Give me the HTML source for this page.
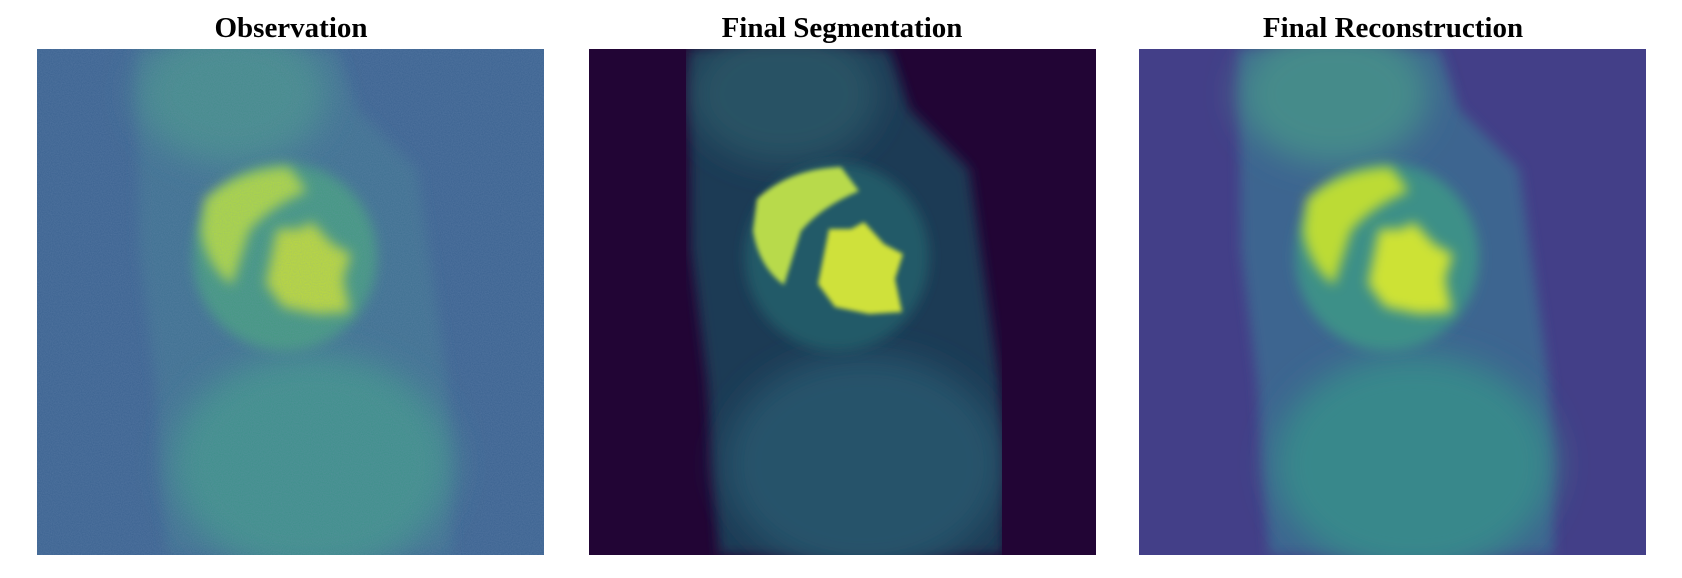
<!DOCTYPE html>
<html><head><meta charset="utf-8"><style>
body{margin:0;background:#fff;width:1682px;height:578px;overflow:hidden}
svg{display:block}
.t{font-family:"Liberation Serif",serif;font-weight:bold;font-size:29px;text-anchor:middle}
</style></head><body>
<svg width="1682" height="578">
<defs>
<filter id="b6" x="-20%" y="-20%" width="140%" height="140%"><feGaussianBlur stdDeviation="6"/></filter>
<filter id="b3"><feGaussianBlur stdDeviation="2.5"/></filter>
<filter id="b14" x="-30%" y="-30%" width="160%" height="160%"><feGaussianBlur stdDeviation="16"/></filter>
<filter id="noise"><feTurbulence type="fractalNoise" baseFrequency="0.9" numOctaves="2" seed="3"/><feColorMatrix type="matrix" values="0 0 0 0 0.2  0 0 0 0 0.3  0 0 0 0 0.5  0 0 0 0.35 0"/></filter>
<clipPath id="cp"><rect width="507" height="506"/></clipPath>
</defs>
<text class="t" x="291" y="37">Observation</text>
<text class="t" x="842" y="37">Final Segmentation</text>
<text class="t" x="1393" y="37">Final Reconstruction</text>
<g id="panels"></g>
</svg>
<script>
const panelX=[37,589,1139];
const panelNames=['observation-panel','segmentation-panel','reconstruction-panel'];
const bgC=['#3a6290','#220535','#433f88'];
const bodyC=['#3c7090','#1f3a55','#3c6590'];
const upperC=['#45928a','#2a5868','#47958a'];
const heartC=['#43997f','#235a68','#3d9088'];
const crescC=['#b0db3c','#b8da4c','#bcdb36'];
const innerC=['#bedd36','#cfe13a','#cde235'];
const lowerC=['#3d9089','#26536a','#38888b'];
const NS='http://www.w3.org/2000/svg';
const root=document.getElementById('panels');
function mk(tag,attrs,parent){const e=document.createElementNS(NS,tag);for(const k in attrs)e.setAttribute(k,attrs[k]);parent.appendChild(e);return e;}
for(let i=0;i<3;i++){
  const g=mk('g',{transform:'translate('+panelX[i]+',49)','clip-path':'url(#cp)'},root);
  
  
  mk('rect',{width:507,height:506,fill:bgC[i]},g);
  const sharp=i===1;
  const f=sharp?'url(#b3)':'url(#b6)';
  const body=mk('path',{d:'M100 0 L300 0 L320 60 L380 120 L410 330 L415 506 L130 506 L118 330 L102 200 Z',fill:bodyC[i],filter:'url(#b6)'},g);
  
  
  const up=mk('ellipse',{cx:195,cy:45,rx:95,ry:70,fill:upperC[i],filter:'url(#b14)','fill-opacity':0.8},g);
  
  
  const low=mk('ellipse',{cx:275,cy:415,rx:140,ry:110,fill:lowerC[i],filter:'url(#b14)'},g);
  
  
  const h=mk('ellipse',{cx:248,cy:208,rx:92,ry:94,fill:heartC[i],filter:'url(#b6)'},g);
  
  
  const c=mk('path',{d:'M168 150 Q200 120 252 118 L270 142 Q232 158 212 182 L195 236 Q170 218 164 182 Z',fill:crescC[i],filter:f},g);
  
  
  const n=mk('path',{d:'M240 180 L262 180 L275 173 L295 195 L314 205 L306 230 L313 263 L280 265 L246 258 L229 235 Z',fill:innerC[i],filter:f},g);
  
  
  if(i===1){
    mk('rect',{x:0,y:0,width:97,height:506,fill:'#220535'},g);
    mk('rect',{x:413,y:0,width:94,height:506,fill:'#220535'},g);
  }
  if(i===0){mk('rect',{width:507,height:506,filter:'url(#noise)'},g);}
}
</script>
</body></html>
